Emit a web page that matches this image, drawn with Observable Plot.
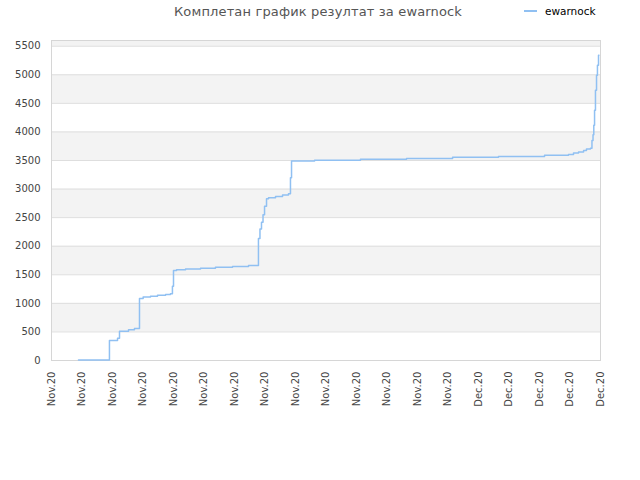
<!DOCTYPE html>
<html><head><meta charset="utf-8">
<script src="https://cdn.jsdelivr.net/npm/d3@7"></script>
<script src="https://cdn.jsdelivr.net/npm/@observablehq/plot@0.6"></script>
<style>
body{margin:0;background:#fff;font-family:"DejaVu Sans",sans-serif;}
#head{position:relative;width:640px;height:34px;}
#title{position:absolute;left:0;width:636px;top:4px;text-align:center;font-size:13px;color:#555;white-space:nowrap;letter-spacing:0.15px;}
#legend{position:absolute;left:524px;top:5px;font-size:10.5px;color:#000;display:flex;align-items:center;}
#legend .sw{display:inline-block;width:13px;height:2px;background:#90c0f2;margin-right:8px;}
</style></head>
<body>
<div id="head"><div id="title">Комплетан график резултат за ewarnock</div>
<div id="legend"><span class="sw"></span><span>ewarnock</span></div></div>
<div id="chart"></div>
<script>
const seriesName = "ewarnock";
// days since first tick (x position) and cumulative score
const days = [1.77,3.80,4.33,4.46,5.05,5.44,5.77,6.01,6.49,6.95,7.48,7.80,7.93,8.00,8.20,8.79,9.77,10.75,11.87,12.92,13.57,13.67,13.77,13.87,13.97,14.10,14.23,14.69,15.15,15.54,15.67,15.74,17.25,20.26,23.28,26.30,29.31,32.33,33.90,34.23,34.56,34.89,35.08,35.34,35.44,35.51,35.56,35.61,35.67,35.74,35.80,35.87,35.90];
const scores = [8,350,390,510,540,560,1085,1110,1125,1140,1155,1170,1300,1575,1590,1600,1615,1630,1645,1663,2135,2300,2420,2550,2700,2830,2850,2870,2895,2918,3200,3490,3505,3522,3537,3555,3572,3590,3607,3630,3650,3675,3700,3715,3850,3950,4115,4378,4728,4990,5166,5340,5340];
const xTicks = [0,2,4,6,8,10,12,14,16,18,20,22,24,26,28,30,32,34,36];
const tickLabels = ["Nov.20","Nov.20","Nov.20","Nov.20","Nov.20","Nov.20","Nov.20","Nov.20","Nov.20","Nov.20","Nov.20","Nov.20","Nov.20","Nov.20","Dec.20","Dec.20","Dec.20","Dec.20","Dec.20"];
const yTicks = [0,500,1000,1500,2000,2500,3000,3500,4000,4500,5000,5500];
const xDomain = [0,36];
const yDomain = [0,5600];

const data = days.map((d,i)=>({day:d, score:scores[i]}));
const bands = yTicks.map((t,i)=>({lo:t, hi: i+1<yTicks.length ? yTicks[i+1] : yDomain[1], odd: i%2===1})).filter(b=>b.odd);

const chart = Plot.plot({
  width:640, height:446,
  marginTop:6, marginBottom:120, marginLeft:51, marginRight:40,
  style:{fontFamily:"DejaVu Sans", fontSize:"10px", color:"#444", background:"white"},
  x:{domain:xDomain},
  y:{domain:yDomain},
  marks:[
    Plot.rect(bands,{x1:()=>xDomain[0], x2:()=>xDomain[1], y1:"lo", y2:"hi", fill:"#f3f3f3"}),
    Plot.ruleY(yTicks,{stroke:"#dedede"}),
    Plot.frame({stroke:"#d6d6d6"}),
    Plot.line(data,{x:"day", y:"score", curve:"step-after", stroke:"#90c0f2", strokeWidth:1.5}),
    Plot.axisY({ticks:yTicks, tickFormat:d=>String(d), tickSize:0, tickPadding:11, label:null}),
    Plot.axisX({ticks:xTicks, tickFormat:d=>tickLabels[xTicks.indexOf(d)], tickRotate:-90, tickSize:0, tickPadding:11, label:null})
  ]
});
document.getElementById("chart").appendChild(chart);
</script>
</body></html>
